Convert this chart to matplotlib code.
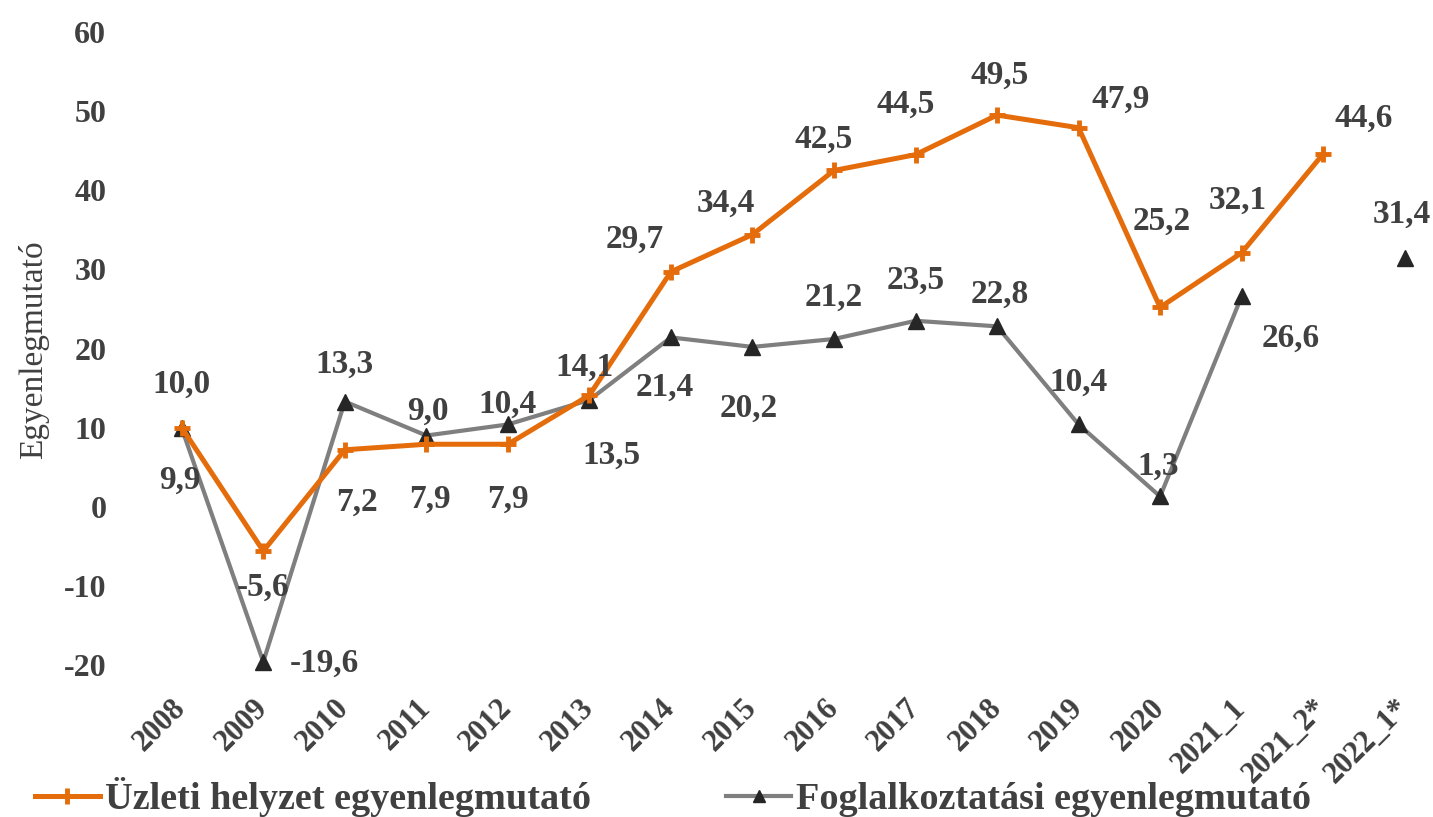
import numpy as np
import matplotlib
matplotlib.use("Agg")
import matplotlib.pyplot as plt
from matplotlib.lines import Line2D

# ---- data ----
categories = ["2008", "2009", "2010", "2011", "2012", "2013", "2014", "2015",
              "2016", "2017", "2018", "2019", "2020", "2021_1", "2021_2*", "2022_1*"]
business = [10.0, -5.6, 7.2, 7.9, 7.9, 14.1, 29.7, 34.4, 42.5, 44.5, 49.5, 47.9,
            25.2, 32.1, 44.6, None]
employment = [9.9, -19.6, 13.3, 9.0, 10.4, 13.5, 21.4, 20.2, 21.2, 23.5, 22.8, 10.4,
              1.3, 26.6, None, 31.4]
yticks = [-20, -10, 0, 10, 20, 30, 40, 50, 60]
series_names = ["Üzleti helyzet egyenlegmutató", "Foglalkoztatási egyenlegmutató"]
ylabel = "Egyenlegmutató"

# label offsets (pixels, dx right, dy down) for annotation placement
biz_off = [(0, -43), (0, 36), (12, 52), (4, 55), (0, 55), (-5, -28), (-36, -32),
           (-27, -31), (-10, -31), (-10, -50), (3, -40), (42, -28), (2, -86),
           (-4, -52), (41, -36), None]
emp_off = [(-2, 52), (61, 1), (0, -37), (2, -24), (0, -20), (22, 55), (-6, 50),
           (-4, 61), (0, -42), (0, -41), (3, -32), (0, -42), (-2, -30), (49, 42),
           None, (-3, -44)]

ORANGE = "#E46C0A"
GRAY = "#7F7F7F"
DARK = "#262626"
TXT = "#404040"
FONT = "Liberation Serif"

plt.rcParams["axes.unicode_minus"] = False
plt.rcParams["font.family"] = [FONT, "DejaVu Serif"]

W, H = 1433, 817
fig = plt.figure(figsize=(W / 100, H / 100), dpi=100)
left_px, right_px, top_px, bottom_px = 141, 1433, 32, 665
ax = fig.add_axes([left_px / W, 1 - bottom_px / H, (right_px - left_px) / W,
                   (bottom_px - top_px) / H])

x = np.arange(len(categories))
b = np.array([np.nan if v is None else v for v in business], dtype=float)
e = np.array([np.nan if v is None else v for v in employment], dtype=float)

ax.plot(x, e, color=GRAY, lw=3.0, marker="^", ms=11, mfc=DARK, mec=DARK,
        clip_on=False, zorder=3)
ax.plot(x, b, color=ORANGE, lw=3.6, marker="+", ms=11, mew=3.5, mec=ORANGE,
        clip_on=False, zorder=4)

def fmt(v):
    return f"{v:.1f}".replace(".", ",")

for vals, offs in ((business, biz_off), (employment, emp_off)):
    for i, v in enumerate(vals):
        if v is None:
            continue
        dx, dy = offs[i]
        ax.annotate(fmt(v), (x[i], v), xytext=(dx, -dy), textcoords="offset pixels",
                    ha="center", va="center", fontsize=24, fontweight="bold",
                    color=TXT, annotation_clip=False, zorder=5)

ax.set_xlim(-0.5, -0.5 + (right_px - left_px) / 81.53)
ax.set_ylim(-20, 60)
ax.set_yticks(yticks)
ax.set_yticklabels([str(t) for t in yticks], fontsize=23, fontweight="bold", color=TXT)
ax.set_xticks(x)
ax.set_xticklabels(categories, fontsize=22, fontweight="bold", color=TXT)
plt.setp(ax.get_xticklabels(), rotation=45, ha="right", va="center",
         rotation_mode="anchor")
ax.tick_params(axis="y", length=0, pad=25)
ax.tick_params(axis="x", length=0, pad=28)
for s in ax.spines.values():
    s.set_visible(False)

ax.set_ylabel(ylabel, fontsize=24, color=TXT)
ax.yaxis.set_label_coords(-0.071, 0.498)

handles = [Line2D([], [], color=ORANGE, lw=3.6, marker="+", ms=11, mew=3.5),
           Line2D([], [], color=GRAY, lw=3.0, marker="^", ms=8, mfc=DARK, mec=DARK)]
leg = fig.legend(handles, series_names, loc="center left",
                 bbox_to_anchor=(35 / W, 20 / H), ncol=2, frameon=False,
                 borderaxespad=0, borderpad=0, handlelength=1.7, handletextpad=0.13,
                 columnspacing=3.55, prop={"family": FONT, "weight": "bold", "size": 27.5})
for t in leg.get_texts():
    t.set_color(TXT)

fig.savefig("out.png", dpi=100)
